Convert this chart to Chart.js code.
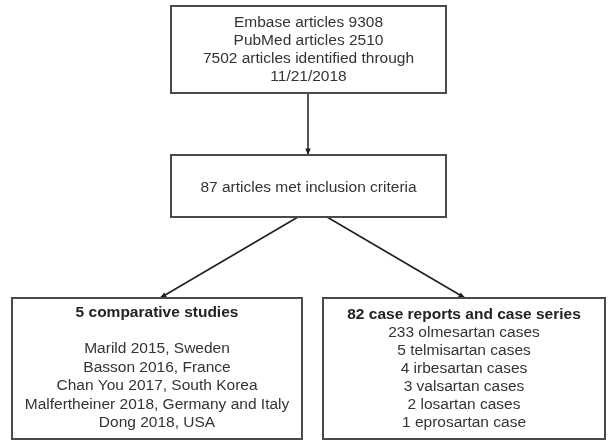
<!DOCTYPE html>
<html>
<head>
<meta charset="utf-8">
<script src="https://cdn.jsdelivr.net/npm/chart.js@4/dist/chart.umd.min.js"></script>
<style>
  body { margin: 0; background: #fff; }
  canvas { display: block; }
</style>
</head>
<body>
<canvas id="flowChart" width="608" height="442"></canvas>
<script>
// box texts
const sourceLines = [
  "Embase articles 9308",
  "PubMed articles 2510",
  "7502 articles identified through",
  "11/21/2018",
];
const inclusionLines = ["87 articles met inclusion criteria"];
const comparativeTitle = "5 comparative studies";
const comparativeLines = [
  "Marild 2015, Sweden",
  "Basson 2016, France",
  "Chan You 2017, South Korea",
  "Malfertheiner 2018, Germany and Italy",
  "Dong 2018, USA",
];
const caseTitle = "82 case reports and case series";
const caseLines = [
  "233 olmesartan cases",
  "5 telmisartan cases",
  "4 irbesartan cases",
  "3 valsartan cases",
  "2 losartan cases",
  "1 eprosartan case",
];

// layout in chart units (axes run 0..608 and 0..442)
const boxes = [
  { x0: 171, y0: 6, x1: 446, y1: 93, title: null, lines: sourceLines, firstY: 23, step: 18 },
  { x0: 171, y0: 155, x1: 446, y1: 217, title: null, lines: inclusionLines, firstY: 188, step: 18 },
  { x0: 12, y0: 298, x1: 302, y1: 439, title: comparativeTitle, titleY: 313, lines: comparativeLines, firstY: 349, step: 18.5 },
  { x0: 323, y0: 298, x1: 605, y1: 439, title: caseTitle, titleY: 315, lines: caseLines, firstY: 333, step: 18 },
];
const arrows = [
  { from: [308, 93], to: [308, 155] },
  { from: [298, 217], to: [160, 298] },
  { from: [327, 217], to: [465, 298] },
];

const flowPlugin = {
  id: "flow",
  afterDraw(chart) {
    const ctx = chart.ctx;
    const xs = chart.scales.x;
    const ys = chart.scales.y;
    const px = (v) => xs.getPixelForValue(v);
    const py = (v) => ys.getPixelForValue(v);
    ctx.save();

    for (const a of arrows) {
      const x1 = px(a.from[0]), y1 = py(a.from[1]);
      const x2 = px(a.to[0]), y2 = py(a.to[1]);
      ctx.strokeStyle = "#1e1e1e";
      ctx.lineWidth = 1.5;
      ctx.beginPath();
      ctx.moveTo(x1, y1);
      ctx.lineTo(x2, y2);
      ctx.stroke();
      const ang = Math.atan2(y2 - y1, x2 - x1);
      const len = 7;
      ctx.fillStyle = "#1e1e1e";
      ctx.beginPath();
      ctx.moveTo(x2, y2);
      ctx.lineTo(x2 - len * Math.cos(ang - 0.4), y2 - len * Math.sin(ang - 0.4));
      ctx.lineTo(x2 - len * Math.cos(ang + 0.4), y2 - len * Math.sin(ang + 0.4));
      ctx.closePath();
      ctx.fill();
    }

    for (const b of boxes) {
      const left = px(b.x0), top = py(b.y0);
      const w = px(b.x1) - left, h = py(b.y1) - top;
      ctx.fillStyle = "#ffffff";
      ctx.fillRect(left, top, w, h);
      ctx.strokeStyle = "#4a4a4a";
      ctx.lineWidth = 2;
      ctx.strokeRect(left, top, w, h);
      const cx = left + w / 2;
      ctx.textAlign = "center";
      ctx.textBaseline = "middle";
      if (b.title) {
        ctx.fillStyle = "#222";
        ctx.font = "bold 15.5px 'Liberation Sans', Arial, sans-serif";
        ctx.fillText(b.title, cx, py(b.titleY));
      }
      ctx.fillStyle = "#333";
      ctx.font = "15.5px 'Liberation Sans', Arial, sans-serif";
      b.lines.forEach((t, i) => {
        ctx.fillText(t, cx, py(b.firstY + i * b.step));
      });
    }
    ctx.restore();
  },
};

new Chart(document.getElementById("flowChart"), {
  type: "scatter",
  data: { datasets: [{ data: [], pointRadius: 0 }] },
  options: {
    responsive: false,
    animation: false,
    layout: { padding: 0 },
    plugins: { legend: { display: false }, tooltip: { enabled: false } },
    scales: {
      x: { type: "linear", min: 0, max: 608, display: false },
      y: { type: "linear", min: 0, max: 442, reverse: true, display: false },
    },
  },
  plugins: [flowPlugin],
});
</script>
</body>
</html>
